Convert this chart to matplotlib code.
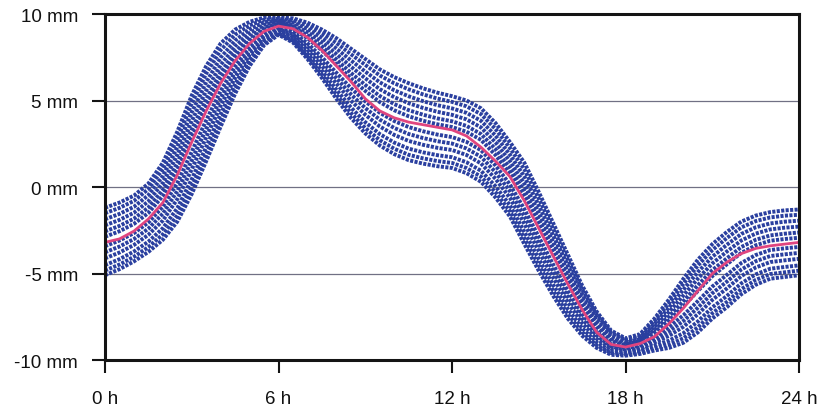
import numpy as np
import matplotlib
matplotlib.use("Agg")
import matplotlib.pyplot as plt

plt.rcParams["font.family"] = ["Liberation Sans", "DejaVu Sans"]

# Time axis (hours), half-hourly samples
hours = np.arange(0, 24.01, 0.5)

# Ensemble mean displacement (mm)
mean_mm = [-3.2, -3.0, -2.55, -1.85, -0.9, 0.7, 2.6, 4.4, 6.0, 7.3, 8.3, 9.0, 9.3,
           9.15, 8.65, 7.9, 7.0, 6.1, 5.1, 4.4, 4.0, 3.75, 3.6, 3.45, 3.3,
           2.95, 2.3, 1.5, 0.6, -0.8, -2.4, -4.0, -5.6, -7.1, -8.4, -9.1, -9.25,
           -9.05, -8.65, -7.9, -7.0, -6.0, -5.0, -4.35, -3.85, -3.55, -3.4, -3.3, -3.2]

# Upper and lower members of the ensemble (mm)
upper_mm = [-1.2, -0.9, -0.5, 0.2, 1.4, 3.2, 5.3, 7.0, 8.3, 9.1, 9.55, 9.8, 9.8,
            9.75, 9.5, 9.1, 8.6, 8.0, 7.4, 6.8, 6.35, 6.0, 5.7, 5.45, 5.25,
            5.0, 4.55, 3.7, 2.6, 1.4, -0.3, -2.1, -3.9, -5.7, -7.2, -8.3, -8.75,
            -8.5, -7.6, -6.5, -5.3, -4.2, -3.3, -2.6, -2.0, -1.65, -1.45, -1.35, -1.3]
lower_mm = [-5.1, -4.75, -4.3, -3.75, -3.05, -2.0, -0.4, 1.5, 3.5, 5.4, 7.0, 8.2, 8.8,
            8.35, 7.4, 6.3, 5.1, 4.0, 3.1, 2.4, 1.9, 1.55, 1.35, 1.2, 1.1,
            0.8, 0.3, -0.6, -1.7, -3.3, -4.85, -6.3, -7.6, -8.6, -9.3, -9.7, -9.75,
            -9.65, -9.45, -9.3, -9.0, -8.4, -7.6, -6.95, -6.2, -5.65, -5.3, -5.2, -5.1]

# Relative position of each ensemble member between the lower and upper members
member_pos = [0.0, 0.07, 0.15, 0.25, 0.34, 0.43, 0.57, 0.65, 0.74, 0.83, 0.92, 1.0]

x_ticks = [0, 6, 12, 18, 24]
x_labels = ["0 h", "6 h", "12 h", "18 h", "24 h"]
y_ticks = [-10, -5, 0, 5, 10]
y_labels = ["-10 mm", "-5 mm", "0 mm", "5 mm", "10 mm"]

fig = plt.figure(figsize=(8.23, 4.10), dpi=100)
ax = fig.add_axes([0.1276, 0.1195, 0.8434, 0.8439])

mean = np.array(mean_mm)
upper = np.array(upper_mm)
lower = np.array(lower_mm)

blue = "#2a3f9f"
for f in member_pos:
    member = lower + f * (upper - lower)
    ax.plot(hours, member, color=blue, lw=2.8, linestyle=(0, (0.8, 0.35)),
            dash_capstyle="butt", zorder=2)

ax.plot(hours, mean, color="#e0457f", lw=2.0, zorder=3)

ax.set_xlim(0, 24)
ax.set_ylim(-10, 10)
ax.set_xticks(x_ticks)
ax.set_xticklabels(x_labels)
ax.set_yticks(y_ticks)
ax.set_yticklabels(y_labels)

ax.grid(axis="y", color="#707084", lw=0.9, zorder=1)
ax.set_axisbelow(True)

for side in ["left", "right", "top", "bottom"]:
    ax.spines[side].set_linewidth(2.2)
    ax.spines[side].set_color("#141414")
    ax.spines[side].set_zorder(5)

ax.tick_params(axis="both", direction="out", length=9.5, width=1.5,
               color="#141414", labelsize=13.5, labelcolor="#111111")
ax.tick_params(axis="y", pad=10)
ax.tick_params(axis="x", pad=12)

fig.savefig("out.png", dpi=100, facecolor="white")
